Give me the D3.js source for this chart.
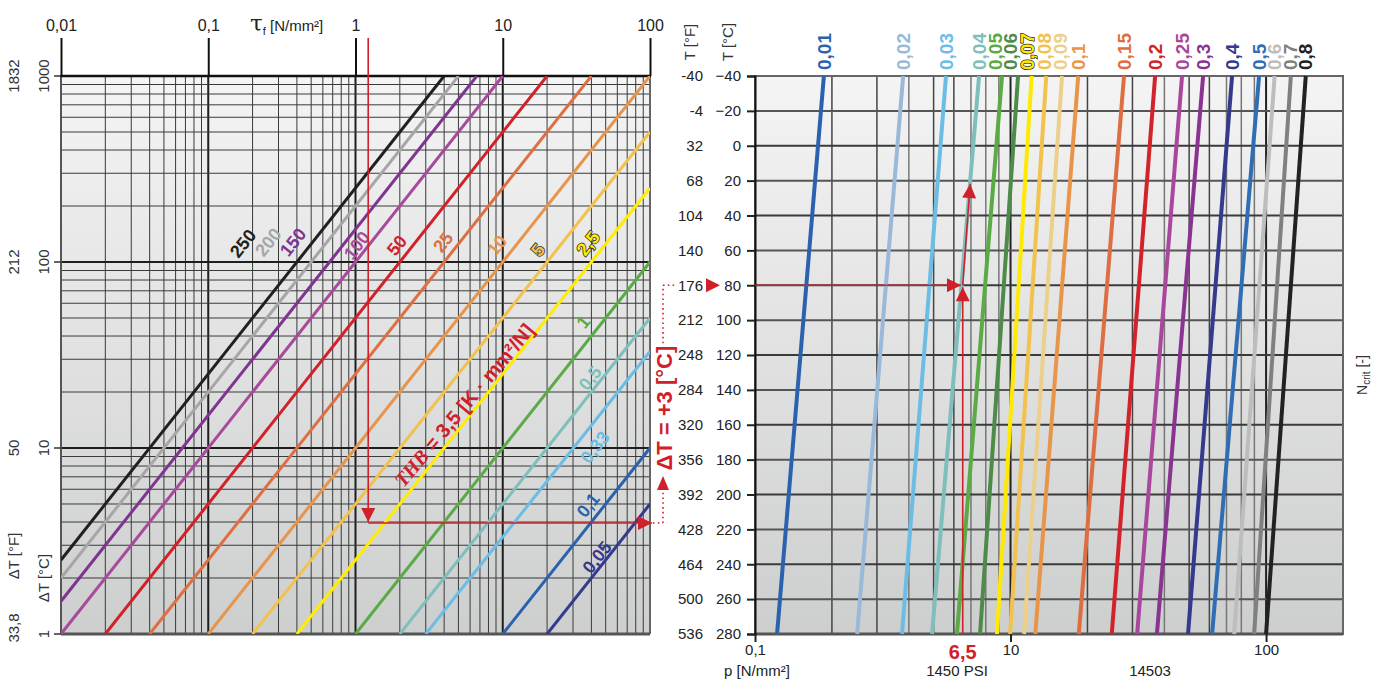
<!DOCTYPE html>
<html><head><meta charset="utf-8">
<script src="https://cdn.jsdelivr.net/npm/d3@7"></script>
<style>
body{margin:0;background:#fff;}
svg{display:block;font-family:"Liberation Sans",Arial,sans-serif;}
</style>
</head><body>
<script>
// ---------- DATA ----------
// Left panel: tau_f [N/mm²] (x, log) vs ΔT [°C] (y, log); lines labelled by value
const leftLabels   = ["250","200","150","100","50","25","10","5","2,5","1","0,5","0,33","0,1","0,05"];
const leftColors   = ["#231f20","#a6a6a6","#7f3490","#a84a9c","#d12129","#de6f43","#e8944b","#f2c14e","#ffed00","#5aaa46","#7ebfbb","#6bbde6","#2a62ad","#353a8c"];
const leftStartTau = [0.01,0.01,0.01,0.01,0.02,0.04,0.1,0.2,0.4,1,2,3,10,20];
const leftStartDT  = [2.5,2,1.5,1,1,1,1,1,1,1,1,1,1,1];
const leftEndTau   = [4,5,6.67,10,20,40,100,100,100,100,100,100,100,100];
const leftEndDT    = [1000,1000,1000,1000,1000,1000,1000,500,250,100,50,33,10,5];
const leftLabelTau = [0.172,0.255,0.376,1.02,1.91,3.93,9.14,17.3,37.9,35.1,39.2,42.3,37.9,43.6];
const leftLabelDT  = [126,128,128,123,123,128,123,116,126,47.6,23.8,10.1,4.94,2.59];
const leftOutlined = ["5","2,5"];
const tauTicks     = [0.01,0.1,1,10,100];
const tauTickLabels= ["0,01","0,1","1","10","100"];
const dtTicks      = [1,10,100,1000];
const dtTickC      = ["1","10","100","1000"];
const dtTickF      = ["33,8","50","212","1832"];
// example (red arrows) in left panel
const exTau = 1.22, exDT = 3.95;
const thbTau = 5.46, thbDT = 17;

// Right panel: p [N/mm²] (x, log) vs T [°C] (y, linear); lines labelled N_crit
const nCrit     = ["0,01","0,02","0,03","0,04","0,05","0,06","0,07","0,08","0,09","0,1","0,15","0,2","0,25","0,3","0,4","0,5","0,6","0,7","0,8"];
const nColors   = ["#2a62ad","#9ab8d8","#6bbde6","#7ebfbb","#5aaa46","#4e8a4a","#ffe900","#f2c14e","#ecd089","#e8954a","#dd6e42","#d2232a","#a9479c","#8b3390","#353a8c","#2f6db5","#bdbdbd","#808080","#222222"];
const pAtTop    = [1.86,3.8,5.59,7.53,9.26,10.7,12.1,13.8,15.9,18.4,27.8,36.8,46.9,56.7,73.6,93.9,108,125,143];   // at T = -40 °C
const pAtBottom = [1.22,2.51,3.76,4.93,6.17,7.6,8.85,9.96,11.3,12.5,18.5,24.9,31.3,37.4,49.5,61.5,75,89.8,100];   // at T = 280 °C
const labelP    = [1.86,3.8,5.59,7.53,8.7,9.95,11.6,13.6,15.6,18.4,27.8,36.8,46.9,56.7,73.6,93.9,108,125,143];
const tTop = -40, tBottom = 280;
const cTicks = [-40,-20,0,20,40,60,80,100,120,140,160,180,200,220,240,260,280];
const fTicks = ["-40","-4","32","68","104","140","176","212","248","284","320","356","392","428","464","500","536"];
const pTicks = [1,10,100];
const pTickLabels = ["0,1","10","100"];
// example in right panel
const exT = 80, exP = 6.5, exPhit = 6.4, exTup = 22, exPup = 6.95;

// ---------- LAYOUT ----------
const W = 1380, H = 682, RED = "#d0202a";
const svg = d3.select("body").append("svg").attr("width", W).attr("height", H);
const defs = svg.append("defs");
const grad = defs.append("linearGradient").attr("id","bg").attr("x1",0).attr("y1",0).attr("x2",0).attr("y2",1);
grad.append("stop").attr("offset","0%").attr("stop-color","#f4f4f4");
grad.append("stop").attr("offset","100%").attr("stop-color","#cdcece");
defs.append("marker").attr("id","arr").attr("viewBox","0 0 10 10").attr("refX",10).attr("refY",5)
  .attr("markerWidth",17).attr("markerHeight",14).attr("markerUnits","userSpaceOnUse").attr("orient","auto")
  .append("path").attr("d","M0,0L10,5L0,10Z").attr("fill",RED);

const xL = d3.scaleLog().domain([0.01,100]).range([61,650]);
const yL = d3.scaleLog().domain([1,1000]).range([634,76]);
const xR = d3.scaleLog().domain([1,200]).range([755,1343]);
const yR = d3.scaleLinear().domain([-40,280]).range([76,634]);
const isDec = d => Math.abs(Math.log10(d) - Math.round(Math.log10(d))) < 1e-6;

// ===== LEFT PANEL =====
const gL = svg.append("g");
gL.append("rect").attr("x",xL.range()[0]).attr("y",yL.range()[1])
  .attr("width",xL.range()[1]-xL.range()[0]).attr("height",yL.range()[0]-yL.range()[1]).attr("fill","url(#bg)");
defs.append("clipPath").attr("id","clipL").append("rect").attr("x",xL.range()[0]).attr("y",yL.range()[1])
  .attr("width",xL.range()[1]-xL.range()[0]).attr("height",yL.range()[0]-yL.range()[1]);

gL.append("g").selectAll("line").data(xL.ticks()).join("line")
  .attr("x1",d=>xL(d)).attr("x2",d=>xL(d)).attr("y1",yL.range()[1]).attr("y2",yL.range()[0])
  .attr("stroke",d=>isDec(d)?"#1e1e1e":"#3a3a3a").attr("stroke-width",d=>isDec(d)?2:1);
gL.append("g").selectAll("line").data(yL.ticks()).join("line")
  .attr("y1",d=>yL(d)).attr("y2",d=>yL(d)).attr("x1",xL.range()[0]).attr("x2",xL.range()[1])
  .attr("stroke",d=>isDec(d)?"#1e1e1e":"#3a3a3a").attr("stroke-width",d=>isDec(d)?2:1);
// frame
gL.append("line").attr("x1",xL.range()[0]).attr("x2",xL.range()[0]).attr("y1",76).attr("y2",634).attr("stroke","#555").attr("stroke-width",2);
gL.append("line").attr("x1",xL.range()[1]).attr("x2",xL.range()[1]).attr("y1",76).attr("y2",634).attr("stroke","#666").attr("stroke-width",2);
gL.append("line").attr("x1",xL.range()[0]).attr("x2",xL.range()[1]).attr("y1",yL(1)).attr("y2",yL(1)).attr("stroke","#555").attr("stroke-width",3);
gL.append("line").attr("x1",xL.range()[0]-1).attr("x2",xL.range()[1]+1).attr("y1",yL(1000)).attr("y2",yL(1000)).attr("stroke","#111").attr("stroke-width",2.5);

// lines
const idxL = d3.range(leftLabels.length);
gL.append("g").attr("clip-path","url(#clipL)").selectAll("line").data(idxL).join("line")
  .attr("x1",i=>xL(leftStartTau[i])).attr("y1",i=>yL(leftStartDT[i]))
  .attr("x2",i=>xL(leftEndTau[i])).attr("y2",i=>yL(leftEndDT[i]))
  .attr("stroke",i=>leftColors[i]).attr("stroke-width",3);
const angL = -Math.atan((yL(1)-yL(10))/(xL(10)-xL(1)))*180/Math.PI;
gL.append("g").selectAll("text").data(idxL).join("text")
  .attr("transform",i=>`translate(${xL(leftLabelTau[i])},${yL(leftLabelDT[i])}) rotate(${angL})`)
  .attr("text-anchor","middle").attr("dy","0.35em")
  .attr("font-size",18).attr("font-weight","bold")
  .attr("fill",i=>leftColors[i])
  .attr("stroke",i=>leftOutlined.includes(leftLabels[i])?"#3a3320":"none")
  .attr("stroke-width",1.6).attr("paint-order","stroke")
  .text(i=>leftLabels[i]);

// top axis
const axT = gL.append("g").attr("transform",`translate(0,${yL(1000)})`)
  .call(d3.axisTop(xL).tickValues(tauTicks).tickFormat((d,i)=>tauTickLabels[i]).tickSize(38).tickPadding(7));
axT.select(".domain").remove();
axT.selectAll(".tick line").attr("stroke","#111").attr("stroke-width",2);
axT.selectAll(".tick text").attr("font-size",16).attr("fill","#222").attr("font-family","Liberation Sans, Arial, sans-serif");
const tauT = gL.append("text").attr("x",250).attr("y",31).attr("fill","#222");
tauT.append("tspan").attr("font-family","DejaVu Serif, Liberation Serif, serif").attr("font-size",23).text("τ");
tauT.append("tspan").attr("font-size",11).attr("dy",4).text("f");
tauT.append("tspan").attr("font-size",15).attr("dy",-4).text(" [N/mm²]");

// left axis (rotated labels)
gL.append("g").selectAll("line").data(dtTicks).join("line")
  .attr("x1",xL.range()[0]-7).attr("x2",xL.range()[0]).attr("y1",d=>yL(d)).attr("y2",d=>yL(d))
  .attr("stroke","#333").attr("stroke-width",1.5);
gL.append("g").selectAll("text").data(dtTicks).join("text")
  .attr("transform",d=>`translate(44,${yL(d)}) rotate(-90)`).attr("text-anchor","middle").attr("dy","0.35em")
  .attr("font-size",15).attr("fill","#333").text((d,i)=>dtTickC[i]);
gL.append("g").selectAll("text").data(dtTicks).join("text")
  .attr("transform",(d,i)=>`translate(14,${yL(d)-(i===0?6:0)}) rotate(-90)`).attr("text-anchor","middle").attr("dy","0.35em")
  .attr("font-size",15).attr("fill","#333").text((d,i)=>dtTickF[i]);
gL.append("text").attr("transform",`translate(44,578) rotate(-90)`).attr("text-anchor","middle").attr("dy","0.35em")
  .attr("font-size",15).attr("fill","#333").text("ΔT [°C]");
gL.append("text").attr("transform",`translate(14,556) rotate(-90)`).attr("text-anchor","middle").attr("dy","0.35em")
  .attr("font-size",15).attr("fill","#333").text("ΔT [°F]");

// THB label
const thb = gL.append("text")
  .attr("transform",`translate(${xL(thbTau)},${yL(thbDT)}) rotate(${angL+1.5})`)
  .attr("text-anchor","middle").attr("dy","0.35em").attr("fill",RED).attr("font-size",20).attr("font-weight","bold");
thb.append("tspan").attr("font-family","Liberation Serif, serif").attr("font-style","italic").text("THB");
thb.append("tspan").text(" = 3,5 [K · mm²/N]");

// example arrows (left)
const ax0 = xL(exTau), ay0 = yL(exDT);
gL.append("line").attr("x1",ax0).attr("x2",ax0).attr("y1",38).attr("y2",ay0-1)
  .attr("stroke",RED).attr("stroke-width",1.6).attr("marker-end","url(#arr)");
gL.append("line").attr("x1",ax0).attr("x2",xL.range()[1]+2).attr("y1",ay0).attr("y2",ay0)
  .attr("stroke",RED).attr("stroke-width",1.6).attr("marker-end","url(#arr)");
const dX = xL.range()[1]+13;
const dotted = {stroke:RED,"stroke-width":1.6,"stroke-dasharray":"1.6,3.2"};
function dline(x1,y1,x2,y2){const l=svg.append("line").attr("x1",x1).attr("y1",y1).attr("x2",x2).attr("y2",y2);Object.entries(dotted).forEach(([k,v])=>l.attr(k,v));}
dline(xL.range()[1]+3,ay0,dX,ay0);
dline(dX,ay0,dX,ay0-34);
svg.append("path").attr("d",`M${dX-6},${ay0-33}L${dX+6},${ay0-33}L${dX},${ay0-47}Z`).attr("fill",RED);
svg.append("text").attr("transform",`translate(${dX+1},${(yR(exT)+ay0)/2+4}) rotate(-90)`)
  .attr("text-anchor","middle").attr("dy","0.35em").attr("fill",RED).attr("font-size",22).attr("font-weight","bold")
  .text("ΔT = +3 [°C]");
dline(dX,yR(exT)+58,dX,yR(exT));
dline(dX,yR(exT),dX+14,yR(exT));

// ===== RIGHT PANEL =====
const gR = svg.append("g");
gR.append("rect").attr("x",xR.range()[0]).attr("y",yR.range()[0])
  .attr("width",xR.range()[1]-xR.range()[0]).attr("height",yR.range()[1]-yR.range()[0]).attr("fill","url(#bg)");
const pGrid = xR.ticks().filter(d=>d>1 && d<200);
gR.append("g").selectAll("line").data(pGrid).join("line")
  .attr("x1",d=>xR(d)).attr("x2",d=>xR(d)).attr("y1",yR.range()[0]).attr("y2",yR.range()[1])
  .attr("stroke",d=>isDec(d)?"#222":([2,3,5,6,20,30,50,60].includes(d)?"#444":"#777"))
  .attr("stroke-width",d=>isDec(d)?2:1.5);
gR.append("g").selectAll("line").data(cTicks.slice(1,-1)).join("line")
  .attr("y1",d=>yR(d)).attr("y2",d=>yR(d)).attr("x1",xR.range()[0]).attr("x2",xR.range()[1])
  .attr("stroke",(d,i)=>i%2?"#3a3a3a":"#555").attr("stroke-width",2);
// frame
gR.append("rect").attr("x",xR.range()[0]).attr("y",yR.range()[0])
  .attr("width",xR.range()[1]-xR.range()[0]).attr("height",yR.range()[1]-yR.range()[0])
  .attr("fill","none").attr("stroke","#666").attr("stroke-width",2);
gR.append("line").attr("x1",xR.range()[0]).attr("x2",xR.range()[1]).attr("y1",yR(280)).attr("y2",yR(280)).attr("stroke","#555").attr("stroke-width",3);

// N_crit lines
const idxR = d3.range(nCrit.length);
gR.append("g").selectAll("line").data(idxR).join("line")
  .attr("x1",i=>xR(pAtTop[i])).attr("y1",yR(tTop)).attr("x2",i=>xR(pAtBottom[i])).attr("y2",yR(tBottom))
  .attr("stroke",i=>nColors[i]).attr("stroke-width",4);
gR.append("g").selectAll("text").data(idxR).join("text")
  .attr("transform",i=>`translate(${xR(labelP[i])},70) rotate(-90)`).attr("dy","0.35em")
  .attr("font-size",19).attr("font-weight","bold").attr("fill",i=>nColors[i])
  .attr("stroke",i=>nCrit[i]==="0,07"?"#222":"none").attr("stroke-width",1.4).attr("paint-order","stroke")
  .text(i=>nCrit[i]);

// left axis of right panel
const axC = gR.append("g").attr("transform",`translate(${xR.range()[0]},0)`)
  .call(d3.axisLeft(yR).tickValues(cTicks).tickSize(8).tickPadding(6));
axC.select(".domain").attr("stroke","#111").attr("stroke-width",2);
axC.selectAll(".tick line").attr("stroke","#222").attr("stroke-width",2);
axC.selectAll(".tick text").attr("font-size",15).attr("fill","#222").attr("font-family","Liberation Sans, Arial, sans-serif");
gR.append("g").selectAll("text").data(cTicks).join("text")
  .attr("x",703).attr("y",d=>yR(d)).attr("dy","0.35em").attr("text-anchor","end")
  .attr("font-size",15).attr("fill","#222").text((d,i)=>fTicks[i]);
gR.append("text").attr("transform","translate(690,42) rotate(-90)").attr("text-anchor","middle").attr("dy","0.35em")
  .attr("font-size",15).attr("fill","#333").text("T [°F]");
gR.append("text").attr("transform","translate(728,42) rotate(-90)").attr("text-anchor","middle").attr("dy","0.35em")
  .attr("font-size",15).attr("fill","#333").text("T [°C]");

// bottom axis of right panel
const axP = gR.append("g").attr("transform",`translate(0,${yR(280)})`)
  .call(d3.axisBottom(xR).tickValues(pTicks).tickFormat((d,i)=>pTickLabels[i]).tickSize(8).tickPadding(2));
axP.select(".domain").remove();
axP.selectAll(".tick line").attr("stroke","#222").attr("stroke-width",2);
axP.selectAll(".tick text").attr("font-size",15).attr("fill","#222").attr("font-family","Liberation Sans, Arial, sans-serif");
gR.append("text").attr("x",724).attr("y",676).attr("font-size",15).attr("fill","#222").text("p [N/mm²]");
gR.append("text").attr("x",957).attr("y",676).attr("text-anchor","middle").attr("font-size",15).attr("fill","#222").text("1450 PSI");
gR.append("text").attr("x",1150).attr("y",676).attr("text-anchor","middle").attr("font-size",15).attr("fill","#222").text("14503");
gR.append("text").attr("x",xR(exP)).attr("y",659).attr("text-anchor","middle").attr("font-size",20).attr("font-weight","bold").attr("fill",RED).text("6,5");
const nc = gR.append("text").attr("transform","translate(1362,375) rotate(-90)").attr("text-anchor","middle").attr("dy","0.35em")
  .attr("font-size",14).attr("fill","#333");
nc.append("tspan").text("N");
nc.append("tspan").attr("font-size",10).attr("dy",3).text("crit");
nc.append("tspan").attr("dy",-3).text(" [-]");

// example arrows (right)
const ry = yR(exT);
gR.append("path").attr("d",`M${706},${ry-7}L${720},${ry}L${706},${ry+7}Z`).attr("fill",RED);
gR.append("line").attr("x1",xR.range()[0]).attr("x2",xR(exPhit)).attr("y1",ry).attr("y2",ry)
  .attr("stroke",RED).attr("stroke-width",1.6).attr("marker-end","url(#arr)");
gR.append("line").attr("x1",xR(exP)).attr("x2",xR(exP)).attr("y1",yR(280)).attr("y2",ry+2)
  .attr("stroke",RED).attr("stroke-width",1.6).attr("marker-end","url(#arr)");
gR.append("line").attr("x1",xR(exP)).attr("x2",xR(exPup)).attr("y1",ry).attr("y2",yR(exTup))
  .attr("stroke",RED).attr("stroke-width",1.6).attr("marker-end","url(#arr)");
</script>
</body></html>
